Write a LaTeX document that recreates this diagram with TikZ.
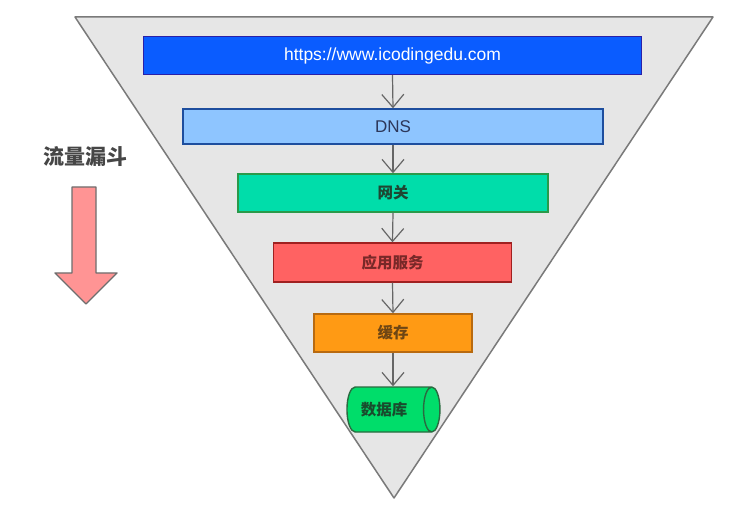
\documentclass[tikz,border=0pt]{standalone}
\usepackage{fontspec}
\setmainfont{Liberation Sans}
\newfontfamily\cjk{Noto Sans CJK SC}
\usetikzlibrary{arrows.meta,shapes.geometric}
\definecolor{trifill}{HTML}{E6E6E6}
\definecolor{triline}{HTML}{7A7A7A}
\definecolor{urlfill}{HTML}{0A5CFF}
\definecolor{urlline}{HTML}{2A20A8}
\definecolor{dnsfill}{HTML}{8EC5FF}
\definecolor{dnsline}{HTML}{1E4E9E}
\definecolor{gwfill}{HTML}{00DDAA}
\definecolor{gwline}{HTML}{2A9A4A}
\definecolor{appfill}{HTML}{FF6262}
\definecolor{appline}{HTML}{A02020}
\definecolor{cachefill}{HTML}{FF9A14}
\definecolor{cacheline}{HTML}{B86A10}
\definecolor{dbfill}{HTML}{00DD6A}
\definecolor{dbline}{HTML}{2A6A40}
\definecolor{arrfill}{HTML}{FF9494}
\definecolor{arrline}{HTML}{6E6E6E}
\definecolor{conn}{HTML}{666666}
\begin{document}
\begin{tikzpicture}[x=1pt,y=-1pt,
  layer/.style={draw, line width=1.4pt, inner sep=0pt, anchor=center},
  flow/.style={conn, line width=1.2pt, -{Straight Barb[length=13pt,width=22pt,line width=1.2pt]}},
  cjklabel/.style={font=\cjk\bfseries\fontsize{15.5}{15.5}\selectfont}]
\useasboundingbox (0,0) rectangle (745,513);
\fill[white] (0,0) rectangle (745,513);
% funnel
\draw[fill=trifill, draw=triline, line width=1.5pt, line join=round] (75,17) -- (713,17) -- (394,498) -- cycle;
% layers
\node[layer, fill=urlfill, draw=urlline, minimum width=498pt, minimum height=38pt,
  text=white, font=\fontsize{17.5}{17.5}\selectfont] (url) at (392.5,55.5) {https://www.icodingedu.com};
\node[layer, fill=dnsfill, draw=dnsline, minimum width=420pt, minimum height=35pt,
  text={rgb,255:red,45;green,55;blue,90}, font=\fontsize{17}{17}\selectfont] (dns) at (393,126.5) {DNS};
\node[layer, cjklabel, fill=gwfill, draw=gwline, minimum width=310pt, minimum height=38pt,
  text={rgb,255:red,30;green,70;blue,50}] (gw) at (393,193) {网关};
\node[layer, cjklabel, fill=appfill, draw=appline, minimum width=238pt, minimum height=39pt,
  text={rgb,255:red,120;green,40;blue,40}] (app) at (392.5,262.5) {应用服务};
\node[layer, cjklabel, fill=cachefill, draw=cacheline, minimum width=158pt, minimum height=38pt,
  text={rgb,255:red,110;green,70;blue,20}] (cache) at (393,333) {缓存};
\node[layer, cjklabel, shape=cylinder, aspect=1.1, fill=dbfill, draw=dbline,
  minimum width=45pt, minimum height=93pt, text={rgb,255:red,25;green,75;blue,45}] (db) at (389,409.5) {数据库\hspace*{10pt}};
% connectors
\draw[flow] (url.south) -- (dns.north);
\draw[flow] (dns.south) -- (gw.north);
\draw[flow] (gw.south) -- (app.north);
\draw[flow] (app.south) -- (cache.north);
\draw[flow] (cache.south) -- (cache.south |- db.north);
% left legend
\node[font=\cjk\bfseries\fontsize{21}{21}\selectfont, text={rgb,255:red,70;green,70;blue,70}] (legend) at (85,157) {流量漏斗};
\draw[fill=arrfill, draw=arrline, line width=1.4pt, line join=round]
  (72,187) -- (96,187) -- (96,273) -- (117,273) -- (86,304) -- (55,273) -- (72,273) -- cycle;
\end{tikzpicture}
\end{document}
